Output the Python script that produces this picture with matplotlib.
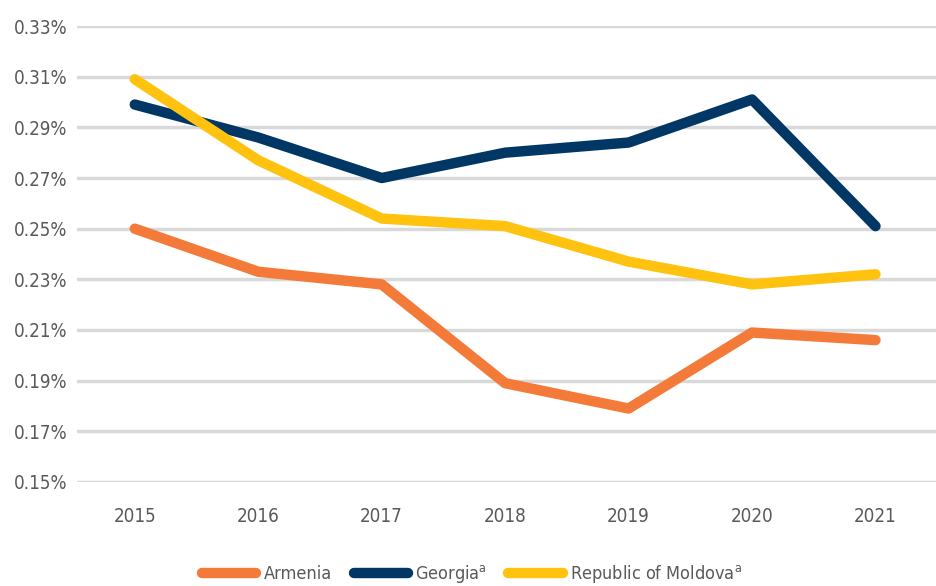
import matplotlib.pyplot as plt
from matplotlib.ticker import FuncFormatter

years = [2015, 2016, 2017, 2018, 2019, 2020, 2021]
armenia = [0.250, 0.233, 0.228, 0.189, 0.179, 0.209, 0.206]
georgia = [0.299, 0.286, 0.270, 0.280, 0.284, 0.301, 0.251]
moldova = [0.309, 0.277, 0.254, 0.251, 0.237, 0.228, 0.232]
yticks = [0.15, 0.17, 0.19, 0.21, 0.23, 0.25, 0.27, 0.29, 0.31, 0.33]

plt.rcParams['font.family'] = ['DejaVu Sans']
plt.rcParams['font.stretch'] = 'condensed'
plt.rcParams['mathtext.fontset'] = 'dejavusans'
txt = '#595959'

fig = plt.figure(figsize=(9.36, 5.86), dpi=100)
ax = fig.add_axes([0.082, 0.1775, 0.918, 0.7781])

kw = dict(lw=7.5, solid_capstyle='round', solid_joinstyle='round', clip_on=False)
ax.plot(years, armenia, color='#F47A3A', label='Armenia', **kw)
ax.plot(years, georgia, color='#003764', label='Georgia$^{\\mathrm{a}}$', **kw)
ax.plot(years, moldova, color='#FFC20E', label='Republic of Moldova$^{\\mathrm{a}}$', **kw)

ax.set_xlim(2014.53, 2021.49)
ax.set_ylim(0.15, 0.33)
ax.set_yticks(yticks)
ax.set_xticks(years)
ax.yaxis.set_major_formatter(FuncFormatter(lambda v, p: f'{v:.2f}%'))
ax.grid(axis='y', color='#d9d9d9', lw=2.5)
ax.set_axisbelow(True)
for s in ax.spines.values():
    s.set_visible(False)
ax.tick_params(length=0, labelsize=13.5, colors=txt)
ax.tick_params(axis='y', pad=6.5)
ax.tick_params(axis='x', pad=18)

leg = ax.legend(loc='upper center', bbox_to_anchor=(0.46, -0.143), ncol=3, frameon=False,
                fontsize=13, handlelength=3.0, columnspacing=1.2, handletextpad=0.4)
for t in leg.get_texts():
    t.set_color(txt)

fig.savefig('out.png', dpi=100)
